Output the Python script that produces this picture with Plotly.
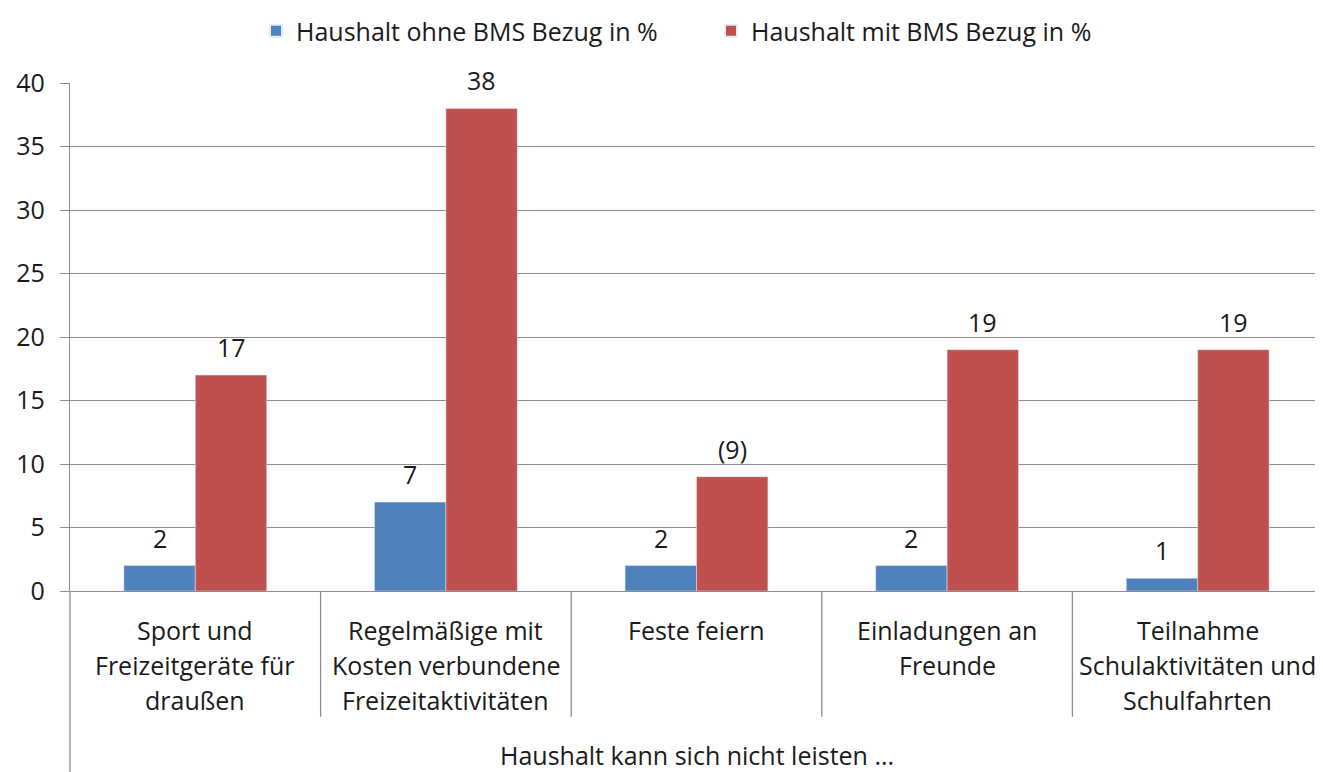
import plotly.graph_objects as go

categories = ["Sport und Freizeitgeräte", "Regelmäßige Freizeitaktivitäten", "Feste feiern",
              "Einladungen an Freunde", "Teilnahme Schulaktivitäten"]
category_lines = [
    ["Sport und", "Freizeitgeräte für", "draußen"],
    ["Regelmäßige mit", "Kosten verbundene", "Freizeitaktivitäten"],
    ["Feste feiern"],
    ["Einladungen an", "Freunde"],
    ["Teilnahme", "Schulaktivitäten und", "Schulfahrten"],
]
series_names = ["Haushalt ohne BMS Bezug in %", "Haushalt mit BMS Bezug in %"]
ohne_values = [2, 7, 2, 2, 1]
mit_values = [17, 38, 9, 19, 19]
ohne_labels = ["2", "7", "2", "2", "1"]
mit_labels = ["17", "38", "(9)", "19", "19"]
y_ticks = [0, 5, 10, 15, 20, 25, 30, 35, 40]
x_title = "Haushalt kann sich nicht leisten ..."

FONT = "Open Sans, sans-serif"
FS = 25
BLUE = "#4F81BD"
RED = "#C0504D"
GRID = "#8C8C8C"
TXT = "#1a1a1a"
BARGAP = 0.43

idx = list(range(len(categories)))
fig = go.Figure()
fig.add_trace(go.Bar(x=idx, y=ohne_values, name=series_names[0], marker_color=BLUE))
fig.add_trace(go.Bar(x=idx, y=mit_values, name=series_names[1], marker_color=RED))

half = (1 - BARGAP) / 4
f = dict(size=FS, color=TXT, family=FONT)
ann = []
for i in idx:
    ann.append(dict(x=i - half, y=ohne_values[i], text=ohne_labels[i], showarrow=False,
                    yanchor="middle", yshift=28, font=f))
    ann.append(dict(x=i + half, y=mit_values[i], text=mit_labels[i], showarrow=False,
                    yanchor="middle", yshift=28, font=f))
    for k, line in enumerate(category_lines[i]):
        ann.append(dict(x=i, xref="x", y=0, yref="paper", text=line, showarrow=False,
                        yanchor="middle", yshift=-39 - 35 * k, font=f))
ann.append(dict(x=0.5, xref="paper", y=0, yref="paper", text=x_title, showarrow=False,
                yanchor="middle", yshift=-164, font=f))

shapes = []
for i in idx[:-1]:
    shapes.append(dict(type="line", xref="x", yref="paper", x0=i + 0.5, x1=i + 0.5,
                       y0=0, y1=-0.2476, line=dict(color=GRID, width=1.3)))
shapes.append(dict(type="line", xref="paper", yref="paper", x0=0, x1=0,
                   y0=0, y1=-0.36, line=dict(color=GRID, width=1.3)))

fig.update_layout(
    width=1315, height=764,
    margin=dict(l=62, r=0, t=70, b=181),
    paper_bgcolor="white", plot_bgcolor="white",
    barmode="group", bargap=BARGAP, bargroupgap=0,
    font=f,
    legend=dict(orientation="h", x=(256 - 70) / 1253, xanchor="left", y=1.103, yanchor="middle",
                font=f, itemsizing="constant",
                entrywidth=410, entrywidthmode="pixels"),
    annotations=ann, shapes=shapes,
    xaxis=dict(range=[-0.5, len(categories) - 0.5], showticklabels=False, showgrid=False,
               zeroline=False, showline=False, ticks="", fixedrange=True),
    yaxis=dict(range=[0, 40], tickvals=y_ticks, showgrid=True, gridcolor=GRID, gridwidth=1.3,
               zeroline=True, zerolinecolor=GRID, zerolinewidth=1.3,
               showline=True, linecolor=GRID, linewidth=1.3,
               ticks="outside", ticklen=9, tickcolor=GRID, tickwidth=1.3,
               tickfont=f, ticklabelstandoff=10),
)

fig.write_html("out.html")
